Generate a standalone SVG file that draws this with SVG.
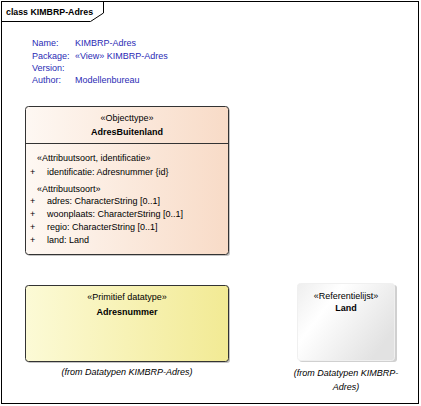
<svg xmlns="http://www.w3.org/2000/svg" width="421" height="406" viewBox="0 0 421 406">
<defs>
<linearGradient id="gObj" x1="0" y1="0" x2="1" y2="0">
<stop offset="0" stop-color="#FEF8F3"/>
<stop offset="1" stop-color="#F8DBC7"/>
</linearGradient>
<linearGradient id="gPrim" x1="0" y1="0" x2="1" y2="0">
<stop offset="0" stop-color="#FCFAD6"/>
<stop offset="1" stop-color="#F2EA94"/>
</linearGradient>
<linearGradient id="gRef" x1="0" y1="0" x2="1" y2="0.6">
<stop offset="0" stop-color="#EEEEEE"/>
<stop offset="0.35" stop-color="#FFFFFF"/>
<stop offset="1" stop-color="#E2E2E2"/>
</linearGradient>
<style>
text{font-family:"Liberation Sans",Arial,sans-serif;font-size:9px;fill:#000}
.b{font-weight:bold}
.c{text-anchor:middle}
.i{font-style:italic}
.n{fill:#2B2BB5}
.box{stroke:#333;stroke-width:1}
.sh{fill:#C4C4C4}
</style>
</defs>
<rect width="421" height="406" fill="#fff"/>
<g id="frame">
<rect x="1.5" y="1.5" width="417" height="402" fill="none" stroke="#000"/>
<path d="M1.5,21.5H90.5L103.5,13V1.5" fill="none" stroke="#000"/>
<text x="6" y="15" class="b" style="font-size:8.8px">class KIMBRP-Adres</text>
</g>
<g id="notes">
<text x="32" y="46" class="n">Name:</text><text x="75" y="46" class="n">KIMBRP-Adres</text>
<text x="32" y="58.5" class="n">Package:</text><text x="75" y="58.5" class="n">«View» KIMBRP-Adres</text>
<text x="32" y="70.5" class="n">Version:</text>
<text x="32" y="83" class="n">Author:</text><text x="75" y="83" class="n">Modellenbureau</text>
</g>
<g id="AdresBuitenland">
<rect x="27" y="108" width="203" height="148" rx="3" class="sh"/>
<rect x="25.5" y="106.5" width="203" height="148" rx="3" fill="url(#gObj)" class="box"/>
<line x1="25.5" y1="143.5" x2="228.5" y2="143.5" stroke="#333"/>
<text x="127" y="121" class="c">«Objecttype»</text>
<text x="127" y="135" class="c b">AdresBuitenland</text>
<text x="37" y="161">«Attribuutsoort, identificatie»</text>
<text x="30" y="174.5">+</text><text x="47" y="174.5">identificatie: Adresnummer {id}</text>
<text x="37" y="191.5">«Attribuutsoort»</text>
<text x="30" y="203.5">+</text><text x="47" y="203.5">adres: CharacterString [0..1]</text>
<text x="30" y="216.5">+</text><text x="47" y="216.5">woonplaats: CharacterString [0..1]</text>
<text x="30" y="230">+</text><text x="47" y="230">regio: CharacterString [0..1]</text>
<text x="30" y="242.5">+</text><text x="47" y="242.5">land: Land</text>
</g>
<g id="Adresnummer">
<rect x="27" y="287" width="203" height="76" rx="3" class="sh"/>
<rect x="25.5" y="285.5" width="203" height="76" rx="3" fill="url(#gPrim)" class="box"/>
<text x="127" y="299.5" class="c">«Primitief datatype»</text>
<text x="127" y="315" class="c b">Adresnummer</text>
<text x="127" y="375" class="c i">(from Datatypen KIMBRP-Adres)</text>
</g>
<g id="Land">
<rect x="299" y="285" width="98" height="77" rx="3" fill="#D0D0D0"/>
<rect x="297.5" y="283.5" width="97" height="77" rx="3" fill="url(#gRef)" stroke="#F0F0F0"/>
<text x="346" y="298.5" class="c">«Referentielijst»</text>
<text x="346" y="311" class="c b">Land</text>
<text x="346" y="376" class="c i">(from Datatypen KIMBRP-</text>
<text x="346" y="390" class="c i">Adres)</text>
</g>
<g id="connectors"/>
</svg>
